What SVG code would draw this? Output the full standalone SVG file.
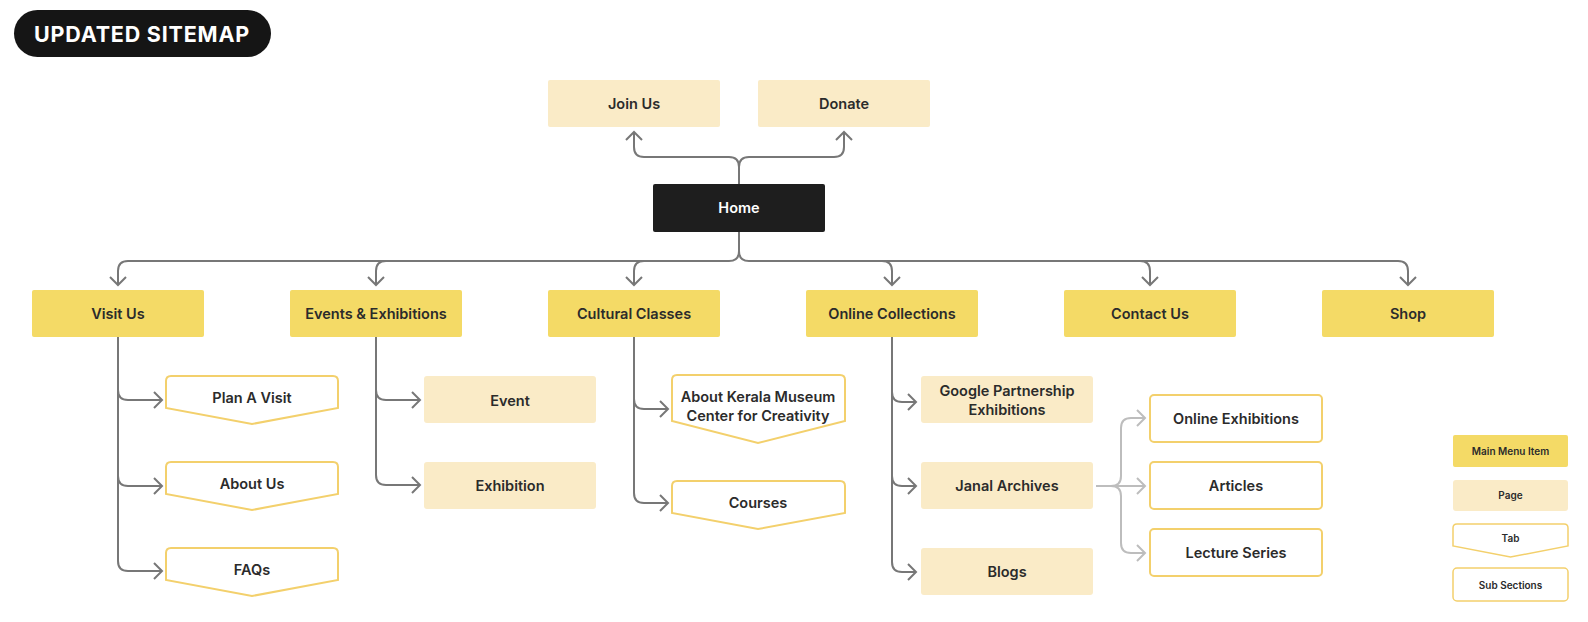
<svg xmlns="http://www.w3.org/2000/svg" width="1588" height="622" viewBox="0 0 1588 622">
<style>
.t{font-family:Inter,"Noto Sans","Liberation Sans",sans-serif;font-weight:600;font-size:14.5px;fill:#2b2b2b;text-anchor:middle}
.s{font-size:10px}
.main{fill:#F4DA66}
.page{fill:#FAEBC7}
.tab{fill:#fff;stroke:#F3D06C;stroke-width:2}
.c{fill:none;stroke:#777;stroke-width:2}
.l{fill:none;stroke:#BDBDBD;stroke-width:2}
</style>
<defs>
<marker id="a" viewBox="-10 -10 20 20" markerWidth="20" markerHeight="20" refX="0" refY="0" orient="auto" markerUnits="userSpaceOnUse">
<path d="M-8,-8 L0,0 L-8,8" fill="none" stroke="#777" stroke-width="2"/>
</marker>
<marker id="b" viewBox="-10 -10 20 20" markerWidth="20" markerHeight="20" refX="0" refY="0" orient="auto" markerUnits="userSpaceOnUse">
<path d="M-8,-8 L0,0 L-8,8" fill="none" stroke="#BDBDBD" stroke-width="2"/>
</marker>
</defs>
<rect width="1588" height="622" fill="#fff"/>
<g id="title">
<rect x="14" y="10" width="257" height="47" rx="23.5" fill="#151515"/>
<text x="142" y="42" style="font-family:Inter,'Liberation Sans',sans-serif;font-weight:700;font-size:21.5px;fill:#fff;text-anchor:middle;letter-spacing:0.8px">UPDATED SITEMAP</text>
</g>
<g id="connectors">
<path class="c" marker-end="url(#a)" d="M739,184 V167 Q739,157 729,157 H644 Q634,157 634,147 V132"/>
<path class="c" marker-end="url(#a)" d="M739,167 Q739,157 749,157 H834 Q844,157 844,147 V132"/>
<path class="c" marker-end="url(#a)" d="M739,232 V251 Q739,261 729,261 H128 Q118,261 118,271 V285"/>
<path class="c" marker-end="url(#a)" d="M386,261 Q376,261 376,271 V285"/>
<path class="c" marker-end="url(#a)" d="M644,261 Q634,261 634,271 V285"/>
<path class="c" marker-end="url(#a)" d="M739,251 Q739,261 749,261 H1398 Q1408,261 1408,271 V285"/>
<path class="c" marker-end="url(#a)" d="M882,261 Q892,261 892,271 V285"/>
<path class="c" marker-end="url(#a)" d="M1140,261 Q1150,261 1150,271 V285"/>
<path class="c" marker-end="url(#a)" d="M118,337 V561 Q118,571 128,571 H162"/>
<path class="c" marker-end="url(#a)" d="M118,390 Q118,400 128,400 H162"/>
<path class="c" marker-end="url(#a)" d="M118,476 Q118,486 128,486 H162"/>
<path class="c" marker-end="url(#a)" d="M376,337 V475 Q376,485 386,485 H420"/>
<path class="c" marker-end="url(#a)" d="M376,390 Q376,400 386,400 H420"/>
<path class="c" marker-end="url(#a)" d="M634,337 V493 Q634,503 644,503 H668"/>
<path class="c" marker-end="url(#a)" d="M634,399 Q634,409 644,409 H668"/>
<path class="c" marker-end="url(#a)" d="M892,337 V562 Q892,572 902,572 H916"/>
<path class="c" marker-end="url(#a)" d="M892,392 Q892,402 902,402 H916"/>
<path class="c" marker-end="url(#a)" d="M892,476 Q892,486 902,486 H916"/>
<path class="l" marker-end="url(#b)" d="M1096,486 H1145"/>
<path class="l" marker-end="url(#b)" d="M1111,486 Q1121,486 1121,476 V428 Q1121,418 1131,418 H1145"/>
<path class="l" marker-end="url(#b)" d="M1111,486 Q1121,486 1121,496 V543 Q1121,553 1131,553 H1145"/>
</g>
<g id="join-us"><rect class="page" x="548" y="80" width="172" height="47" rx="2"/><text class="t" x="634" y="108.5">Join Us</text></g>
<g id="donate"><rect class="page" x="758" y="80" width="172" height="47" rx="2"/><text class="t" x="844" y="108.5">Donate</text></g>
<g id="home"><rect x="653" y="184" width="172" height="48" rx="2" fill="#1E1E1E"/><text class="t" x="739" y="213" style="fill:#fff">Home</text></g>
<g id="visit-us"><rect class="main" x="32" y="290" width="172" height="47" rx="2"/><text class="t" x="118" y="319">Visit Us</text></g>
<g id="events"><rect class="main" x="290" y="290" width="172" height="47" rx="2"/><text class="t" x="376" y="319">Events &amp; Exhibitions</text></g>
<g id="cultural"><rect class="main" x="548" y="290" width="172" height="47" rx="2"/><text class="t" x="634" y="319">Cultural Classes</text></g>
<g id="online"><rect class="main" x="806" y="290" width="172" height="47" rx="2"/><text class="t" x="892" y="319">Online Collections</text></g>
<g id="contact"><rect class="main" x="1064" y="290" width="172" height="47" rx="2"/><text class="t" x="1150" y="319">Contact Us</text></g>
<g id="shop"><rect class="main" x="1322" y="290" width="172" height="47" rx="2"/><text class="t" x="1408" y="319">Shop</text></g>
<g id="plan-visit"><path class="tab" d="M166,381 Q166,376 171,376 H333 Q338,376 338,381 V408 L252,424 L166,408 Z"/><text class="t" x="252" y="402.5">Plan A Visit</text></g>
<g id="about-us"><path class="tab" d="M166,467 Q166,462 171,462 H333 Q338,462 338,467 V494 L252,510 L166,494 Z"/><text class="t" x="252" y="488.5">About Us</text></g>
<g id="faqs"><path class="tab" d="M166,553 Q166,548 171,548 H333 Q338,548 338,553 V580 L252,596 L166,580 Z"/><text class="t" x="252" y="574.5">FAQs</text></g>
<g id="event"><rect class="page" x="424" y="376" width="172" height="47" rx="3"/><text class="t" x="510" y="405.5">Event</text></g>
<g id="exhibition"><rect class="page" x="424" y="462" width="172" height="47" rx="3"/><text class="t" x="510" y="491">Exhibition</text></g>
<g id="about-kerala"><path class="tab" d="M672,380 Q672,375 677,375 H840 Q845,375 845,380 V421 L758,443 L672,421 Z"/><text class="t" x="758" y="401.5">About Kerala Museum</text><text class="t" x="758" y="420.5">Center for Creativity</text></g>
<g id="courses"><path class="tab" d="M672,486 Q672,481 677,481 H840 Q845,481 845,486 V513 L758,529 L672,513 Z"/><text class="t" x="758" y="507.5">Courses</text></g>
<g id="google"><rect class="page" x="921" y="376" width="172" height="47" rx="3"/><text class="t" x="1007" y="396">Google Partnership</text><text class="t" x="1007" y="415">Exhibitions</text></g>
<g id="janal"><rect class="page" x="921" y="462" width="172" height="47" rx="3"/><text class="t" x="1007" y="491">Janal Archives</text></g>
<g id="blogs"><rect class="page" x="921" y="548" width="172" height="47" rx="3"/><text class="t" x="1007" y="577">Blogs</text></g>
<g id="online-exhibitions"><rect class="tab" x="1150" y="395" width="172" height="47" rx="4"/><text class="t" x="1236" y="424">Online Exhibitions</text></g>
<g id="articles"><rect class="tab" x="1150" y="462" width="172" height="47" rx="4"/><text class="t" x="1236" y="491">Articles</text></g>
<g id="lecture"><rect class="tab" x="1150" y="529" width="172" height="47" rx="4"/><text class="t" x="1236" y="558">Lecture Series</text></g>
<g id="legend">
<g id="legend-main"><rect class="main" x="1453" y="435" width="115" height="32" rx="2"/><text class="t s" x="1510.5" y="454.5">Main Menu Item</text></g>
<g id="legend-page"><rect class="page" x="1453" y="480" width="115" height="31" rx="3"/><text class="t s" x="1510.5" y="499">Page</text></g>
<g id="legend-tab"><path class="tab" style="stroke-width:1.5" d="M1453,528 Q1453,524 1457,524 H1564 Q1568,524 1568,528 V546 L1510.5,557 L1453,546 Z"/><text class="t s" x="1510.5" y="541.5">Tab</text></g>
<g id="legend-sub"><rect class="tab" style="stroke-width:1.5" x="1453" y="568" width="115" height="33" rx="4"/><text class="t s" x="1510.5" y="588.5">Sub Sections</text></g>
</g>
</svg>
